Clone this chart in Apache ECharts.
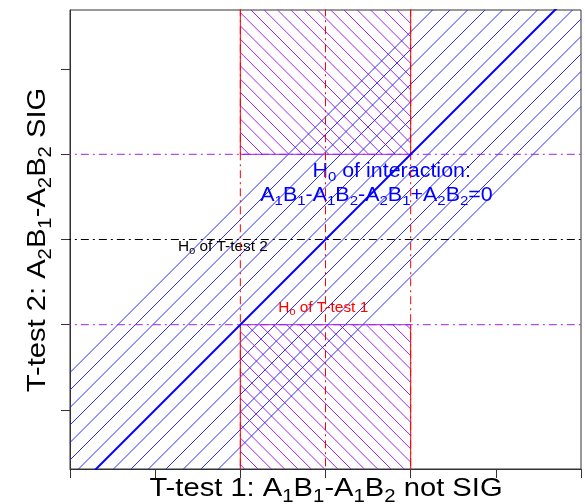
<!DOCTYPE html>
<html>
<head>
<meta charset="utf-8">
<script src="https://cdn.jsdelivr.net/npm/echarts@6/dist/echarts.min.js"></script>
<style>
  html, body { margin: 0; padding: 0; background: #fff; }
  #chart { width: 585px; height: 504px; }
</style>
</head>
<body>
<div id="chart"></div>
<script>
// axis ranges and ticks
const xRange = [0, 6];
const yRange = [0.306, 5.694];
const yTicks = [1, 2, 3, 4, 5];

// reference lines
const nullValue = 3;          // H0 of each t-test
const sigBounds = [2, 4];     // significance borders

// regions: T-test 1 not SIG (x inside bounds) and T-test 2 SIG (y outside)
const notSigX = [2, 4];
const sigTopY = [4, 7];
const sigBottomY = [-1, 2];
const bandHalfWidth = 1.45;   // H0 of interaction band around y = x

// annotations
const annText = ['H_0 of interaction:', 'A_1B_1-A_1B_2-A_2B_1+A_2B_2=0', 'H_0 of T-test 2', 'H_0 of T-test 1'];
const annX = [3.777, 3.599, 1.796, 2.974];
const annY = [3.805, 3.523, 2.914, 2.198];
const annSize = [19.5, 19.5, 14, 14];
const annColor = ['#0000ff', '#0000ff', '#000000', '#ff0000'];

const FONT = '"Liberation Sans", Arial, sans-serif';
const PURPLE = '#a020f0';
const BLUE = '#0000ff';
const HATCH_BLUE = '#2a2aff';
const DOTDASH = [2, 4, 8, 4];

// "A_1" -> rich text with subscript
function toRich(s) {
    let out = '', buf = '';
    for (let i = 0; i < s.length; i++) {
        if (s[i] === '_') {
            if (buf) out += '{n|' + buf + '}';
            buf = '';
            out += '{s|' + s[i + 1] + '}';
            i++;
        } else {
            buf += s[i];
        }
    }
    if (buf) out += '{n|' + buf + '}';
    return out;
}

function richStyles(F, color) {
    return {
        n: { fontSize: F, lineHeight: F, verticalAlign: 'top', fill: color, fontFamily: FONT },
        s: { fontSize: 0.7 * F, lineHeight: F, verticalAlign: 'top', padding: [0.454 * F, 0, 0, 0], fill: color, fontFamily: FONT }
    };
}

// clip line p + t*d to a convex polygon
function clipToPolygon(p, d, poly, t0, t1) {
    let cx = 0, cy = 0;
    poly.forEach(q => { cx += q[0]; cy += q[1]; });
    cx /= poly.length; cy /= poly.length;
    for (let i = 0; i < poly.length; i++) {
        const a = poly[i], b = poly[(i + 1) % poly.length];
        let nx = -(b[1] - a[1]), ny = b[0] - a[0];
        if (nx * (cx - a[0]) + ny * (cy - a[1]) < 0) { nx = -nx; ny = -ny; }
        const num = nx * (p[0] - a[0]) + ny * (p[1] - a[1]);
        const den = nx * d[0] + ny * d[1];
        if (Math.abs(den) < 1e-9) {
            if (num < 0) return null;
            continue;
        }
        const t = -num / den;
        if (den > 0) t0 = Math.max(t0, t); else t1 = Math.min(t1, t);
        if (t0 > t1) return null;
    }
    return [t0, t1];
}

// hatched regions (data corners, hatch angle/gap in pixels)
const regions = [
    { corners: [[notSigX[0], sigTopY[0]], [notSigX[1], sigTopY[0]], [notSigX[1], sigTopY[1]], [notSigX[0], sigTopY[1]]],
      angle: -45, gap: 9.4, phase: [2, 5.663], color: PURPLE },
    { corners: [[notSigX[0], sigBottomY[0]], [notSigX[1], sigBottomY[0]], [notSigX[1], sigBottomY[1]], [notSigX[0], sigBottomY[1]]],
      angle: -45, gap: 9.4, phase: [2, 5.663], color: PURPLE },
    { corners: [[-1, -1 - bandHalfWidth], [7, 7 - bandHalfWidth], [7, 7 + bandHalfWidth], [-1, -1 + bandHalfWidth]],
      angle: 45, gap: 12.37, phase: [nullValue, nullValue], color: HATCH_BLUE }
];

function hatchSeries(r) {
    return {
        type: 'custom', silent: true, data: [[0, 0]],
        itemStyle: { color: r.color },
        renderItem: function (params, api) {
            const poly = r.corners.map(c => api.coord(c));
            const cs = params.coordSys;
            const box = [[cs.x, cs.y], [cs.x + cs.width, cs.y], [cs.x + cs.width, cs.y + cs.height], [cs.x, cs.y + cs.height]];
            const ang = r.angle * Math.PI / 180;
            const d = [Math.cos(ang), -Math.sin(ang)];
            const n = [-d[1], d[0]];
            const o = api.coord(r.phase);
            let lo = Infinity, hi = -Infinity;
            poly.forEach(q => {
                const s = (q[0] - o[0]) * n[0] + (q[1] - o[1]) * n[1];
                lo = Math.min(lo, s); hi = Math.max(hi, s);
            });
            let path = '';
            for (let k = Math.ceil(lo / r.gap); k <= Math.floor(hi / r.gap); k++) {
                const p = [o[0] + n[0] * k * r.gap, o[1] + n[1] * k * r.gap];
                let t = clipToPolygon(p, d, poly, -1e4, 1e4);
                if (t) t = clipToPolygon(p, d, box, t[0], t[1]);
                if (!t) continue;
                path += 'M' + (p[0] + d[0] * t[0]) + ' ' + (p[1] + d[1] * t[0]) +
                        'L' + (p[0] + d[0] * t[1]) + ' ' + (p[1] + d[1] * t[1]);
            }
            return {
                type: 'path',
                shape: { pathData: path },
                style: { stroke: api.visual('color'), fill: 'none', lineWidth: 1 }
            };
        }
    };
}

function seg(data, color, width, type) {
    return {
        type: 'line', data: data, showSymbol: false, symbol: 'none', clip: true, silent: true,
        itemStyle: { color: color },
        lineStyle: { color: color, width: width, type: type }
    };
}

const series = regions.map(hatchSeries);

// rectangle borders
sigBounds.forEach(yb => series.push(seg([[notSigX[0], yb], [notSigX[1], yb]], PURPLE, 1, 'solid')));
notSigX.forEach(xb => {
    series.push(seg([[xb, sigTopY[0]], [xb, sigTopY[1]]], '#ff0000', 1, 'solid'));
    series.push(seg([[xb, sigBottomY[0]], [xb, sigBottomY[1]]], '#ff0000', 1, 'solid'));
});

// T-test 1 lines (vertical, red)
[sigBounds[0], nullValue, sigBounds[1]].forEach(v => series.push(seg([[v, -1], [v, 7]], '#ff0000', 1, DOTDASH)));
// T-test 2 lines (horizontal)
sigBounds.forEach(v => series.push(seg([[-1, v], [7, v]], PURPLE, 1, DOTDASH)));
series.push(seg([[-1, nullValue], [7, nullValue]], '#000000', 1, DOTDASH));
// H0 of interaction
series.push(seg([[-1, -1], [7, 7]], BLUE, 2, 'solid'));

// annotations
series.push({
    type: 'custom', silent: true,
    data: annText.map((t, i) => [annX[i], annY[i]]),
    renderItem: function (params, api) {
        const i = params.dataIndex;
        const p = api.coord([annX[i], annY[i]]);
        return {
            type: 'text', x: p[0], y: p[1], scaleX: 1.1,
            style: { text: toRich(annText[i]), rich: richStyles(annSize[i], annColor[i]), align: 'center', verticalAlign: 'middle' }
        };
    }
});

const chart = echarts.init(document.getElementById('chart'));
chart.setOption({
    animation: false,
    grid: { left: 70, right: 4, top: 10, bottom: 35, show: true, borderColor: '#333', borderWidth: 1 },
    xAxis: {
        type: 'value', min: xRange[0], max: xRange[1], interval: 1,
        axisLine: { show: true, lineStyle: { color: '#333' } },
        axisTick: { show: true, length: 9, lineStyle: { color: '#333' } },
        axisLabel: { show: false },
        splitLine: { show: false }
    },
    yAxis: {
        type: 'value', min: yRange[0], max: yRange[1],
        axisLine: { show: true, lineStyle: { color: '#333' } },
        axisTick: { show: true, length: 9, customValues: yTicks, lineStyle: { color: '#333' } },
        axisLabel: { show: false },
        splitLine: { show: false }
    },
    graphic: [
        {
            type: 'text', x: 326, y: 488.8, scaleX: 1.1, silent: true,
            style: { text: toRich('T-test 1: A_1B_1-A_1B_2 not SIG'), rich: richStyles(26.5, '#000'), align: 'center', verticalAlign: 'middle' }
        },
        {
            type: 'text', x: 37.8, y: 240, scaleX: 1.1, rotation: Math.PI / 2, silent: true,
            style: { text: toRich('T-test 2: A_2B_1-A_2B_2 SIG'), rich: richStyles(26.5, '#000'), align: 'center', verticalAlign: 'middle' }
        }
    ],
    series: series
});
</script>
</body>
</html>
